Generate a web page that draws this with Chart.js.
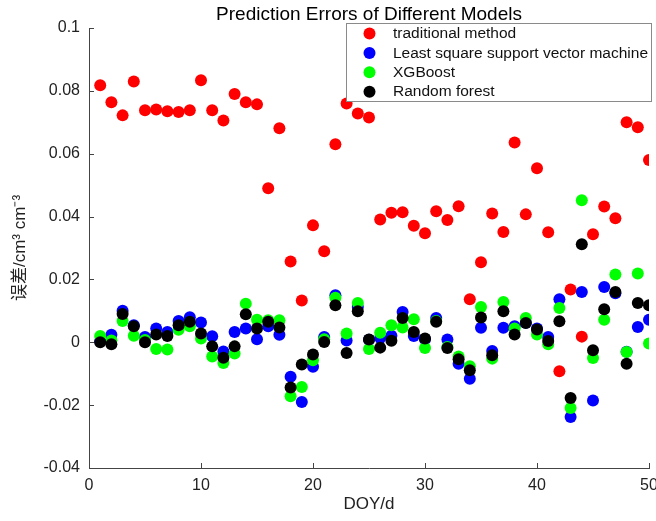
<!DOCTYPE html>
<html><head><meta charset="utf-8">
<script src="https://cdn.jsdelivr.net/npm/chart.js@4.4.1/dist/chart.umd.min.js"></script>
<style>html,body{margin:0;padding:0;background:#fff;}#wrap{width:656px;height:521px;position:relative;}</style>
</head><body><div id="wrap"><canvas id="c" width="656" height="521"></canvas></div>
<script>
const days = [1,2,3,4,5,6,7,8,9,10,11,12,13,14,15,16,17,18,19,20,21,22,23,24,25,26,27,28,29,30,31,32,33,34,35,36,37,38,39,40,41,42,43,44,45,46,47,48,49,50];
const traditional = [0.0818,0.0764,0.0722,0.0830,0.0738,0.0741,0.0735,0.0733,0.0738,0.0834,0.0738,0.0706,0.0790,0.0764,0.0757,0.0490,0.0681,0.0257,0.0133,0.0372,0.0290,0.0630,0.0760,0.0728,0.0715,0.0391,0.0412,0.0414,0.0371,0.0347,0.0417,0.0389,0.0433,0.0137,0.0255,0.0410,0.0351,0.0636,0.0407,0.0554,0.0350,-0.0092,0.0168,0.0018,0.0344,0.0432,0.0395,0.0700,0.0684,0.0580];
const lssvm = [0.0003,0.0024,0.0100,0.0054,0.0017,0.0044,0.0033,0.0068,0.0080,0.0063,0.0019,-0.0029,0.0033,0.0044,0.0010,0.0051,0.0024,-0.0110,-0.0190,-0.0078,0.0017,0.0150,0.0006,0.0112,0.0008,0.0014,0.0021,0.0096,0.0020,0.0010,0.0077,0.0009,-0.0068,-0.0116,0.0046,-0.0028,0.0046,0.0051,0.0062,0.0044,0.0017,0.0137,-0.0238,0.0160,-0.0185,0.0176,0.0156,-0.0030,0.0049,0.0072];
const xgboost = [0.0020,0.0006,0.0068,0.0021,0.0007,-0.0021,-0.0023,0.0040,0.0051,0.0012,-0.0045,-0.0066,-0.0036,0.0123,0.0072,0.0070,0.0070,-0.0172,-0.0142,-0.0057,0.0010,0.0142,0.0028,0.0125,-0.0021,0.0030,0.0054,0.0047,0.0073,-0.0018,0.0068,-0.0015,-0.0045,-0.0076,0.0112,-0.0052,0.0128,0.0044,0.0077,0.0025,-0.0006,0.0109,-0.0209,0.0452,-0.0050,0.0072,0.0216,-0.0031,0.0219,-0.0004];
const randomForest = [0.0000,-0.0006,0.0090,0.0051,0.0000,0.0025,0.0020,0.0054,0.0065,0.0028,-0.0013,-0.0049,-0.0013,0.0089,0.0044,0.0065,0.0047,-0.0144,-0.0071,-0.0039,0.0001,0.0118,-0.0034,0.0099,0.0009,-0.0017,0.0005,0.0077,0.0033,0.0012,0.0065,-0.0018,-0.0054,-0.0089,0.0079,-0.0041,0.0099,0.0025,0.0061,0.0041,0.0004,0.0067,-0.0177,0.0312,-0.0025,0.0105,0.0160,-0.0068,0.0125,0.0118];
const seriesNames = ['traditional method','Least square support vector machine','XGBoost','Random forest'];
const seriesColors = ['#ff0000','#0000ff','#00ff00','#000000'];
const xTicks = [0,10,20,30,40,50];
const yTicks = [-0.04,-0.02,0,0.02,0.04,0.06,0.08,0.1];
const titleText = 'Prediction Errors of Different Models';
const xTitle = 'DOY/d';
const yTitle = '误差/cm³ cm⁻³';

const FONT = '"Liberation Sans", Arial, "Noto Sans CJK SC", sans-serif';
const allSeries = [traditional, lssvm, xgboost, randomForest];
const datasets = allSeries.map((vals, i) => ({
  label: seriesNames[i],
  data: days.map((d, j) => ({x: d, y: vals[j]})),
  backgroundColor: seriesColors[i],
  borderColor: seriesColors[i],
  borderWidth: 0,
  pointRadius: 6,
  pointHoverRadius: 6,
  order: 4 - i
}));

const tickMarks = {
  id: 'tickMarks',
  beforeDatasetsDraw(chart) {
    const {ctx, chartArea: a, scales: {x, y}} = chart;
    ctx.save();
    ctx.strokeStyle = '#444'; ctx.lineWidth = 1;
    ctx.beginPath();
    x.ticks.forEach(t => { const px = Math.round(x.getPixelForValue(t.value)) + 0.5; ctx.moveTo(px, a.bottom); ctx.lineTo(px, a.bottom - 5); });
    y.ticks.forEach(t => { const py = Math.round(y.getPixelForValue(t.value)) + 0.5; ctx.moveTo(a.left, py); ctx.lineTo(a.left + 5, py); });
    ctx.stroke();
    ctx.restore();
  }
};

const boxLegend = {
  id: 'boxLegend',
  afterDraw(chart) {
    const {ctx, chartArea: a} = chart;
    const L = a.right - 303, T = a.top - 5, W = 306, H = 79;
    ctx.save();
    ctx.fillStyle = '#fff'; ctx.fillRect(L, T, W, H);
    ctx.strokeStyle = '#8a8a8a'; ctx.lineWidth = 1; ctx.strokeRect(L + 0.5, T + 0.5, W - 1, H - 1);
    ctx.font = '15.5px ' + FONT; ctx.textBaseline = 'middle'; ctx.textAlign = 'left';
    chart.data.datasets.forEach((ds, i) => {
      const cy = T + 10.5 + i * 19.4;
      ctx.fillStyle = ds.backgroundColor;
      ctx.beginPath(); ctx.arc(L + 23.5, cy, 6, 0, Math.PI * 2); ctx.fill();
      ctx.fillStyle = '#111';
      ctx.fillText(ds.label, L + 47, cy + 0.5);
    });
    ctx.restore();
  }
};

new Chart(document.getElementById('c'), {
  type: 'scatter',
  data: {datasets},
  options: {
    responsive: false,
    animation: false,
    devicePixelRatio: 1,
    layout: {padding: {left: 0, right: 7, top: 0, bottom: 0}},
    plugins: {
      legend: {display: false},
      tooltip: {enabled: false},
      title: {display: true, text: titleText, fullSize: false, color: '#000',
        font: {family: FONT, size: 19, weight: 'normal'}, padding: {top: 3, bottom: 2.2}}
    },
    scales: {
      x: {
        type: 'linear', min: 0, max: 50,
        afterBuildTicks: s => { s.ticks = xTicks.map(v => ({value: v})); },
        afterFit: s => { s.height = 53; s.paddingLeft = 0; s.paddingRight = 0; },
        ticks: {color: '#222', font: {family: FONT, size: 16}, padding: 8, maxRotation: 0},
        grid: {display: true, drawOnChartArea: false, drawTicks: false},
        border: {display: true, color: '#444', width: 1},
        title: {display: true, text: xTitle, color: '#222', font: {family: FONT, size: 17}, padding: {top: 0, bottom: 6}}
      },
      y: {
        type: 'linear', min: -0.04, max: 0.1,
        afterBuildTicks: s => { s.ticks = yTicks.map(v => ({value: v})); },
        afterFit: s => { s.width = 89; s.paddingTop = 0; s.paddingBottom = 0; },
        ticks: {color: '#222', font: {family: FONT, size: 16}, padding: 9,
          callback: v => String(Number(v.toFixed(2)))},
        grid: {display: true, drawOnChartArea: false, drawTicks: false},
        border: {display: true, color: '#444', width: 1},
        title: {display: true, text: yTitle, color: '#222', font: {family: FONT, size: 17}, padding: {top: 10, bottom: 0}}
      }
    }
  },
  plugins: [tickMarks, boxLegend]
});
</script></body></html>
